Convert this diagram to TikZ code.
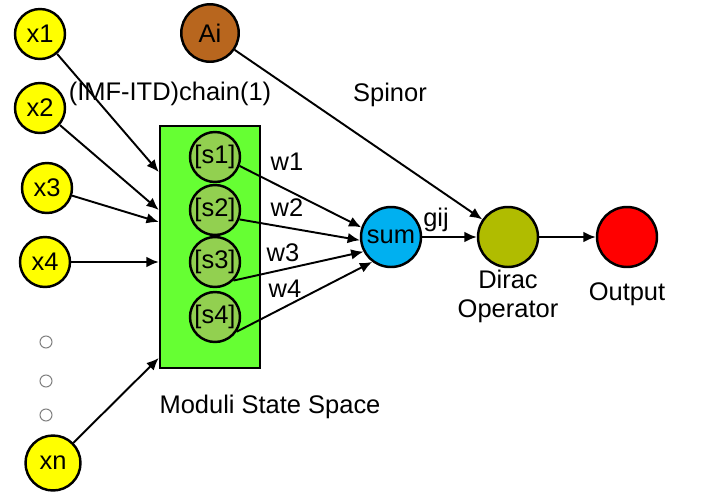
\documentclass[tikz,border=0pt]{standalone}
\usepackage{fontspec}
\setmainfont{Liberation Sans}
\usetikzlibrary{arrows.meta}
\definecolor{inyellow}{RGB}{255,255,0}
\definecolor{aibrown}{RGB}{184,102,30}
\definecolor{boxgreen}{RGB}{102,255,51}
\definecolor{stategreen}{RGB}{146,208,80}
\definecolor{sumblue}{RGB}{0,176,240}
\definecolor{diracolive}{RGB}{176,188,0}
\begin{document}
\begin{tikzpicture}[x=0.02cm, y=-0.02cm, line width=1.1pt, >={Latex[length=7pt,width=6pt]},
    font=\fontsize{14.5}{16.5}\selectfont,
    unit/.style={circle, draw, line width=1.4pt, inner sep=0pt, minimum size=1cm},
    dots/.style={circle, draw=gray, line width=0.6pt, fill=white, inner sep=0pt, minimum size=0.24cm}]
        \useasboundingbox (0,0) rectangle (704,498);
        % inputs
        \node[unit, fill=inyellow] (x1) at (40,34) {x1};
        \node[unit, fill=inyellow] (x2) at (40,108) {x2};
        \node[unit, fill=inyellow] (x3) at (47,188) {x3};
        \node[unit, fill=inyellow] (x4) at (45,262) {x4};
        \node[unit, fill=inyellow, minimum size=1.1cm] (xn) at (53,463) {xn};
        \node[dots] (d1) at (46,342) {};
        \node[dots] (d2) at (46,381) {};
        \node[dots] (d3) at (46,415) {};
        \node[unit, fill=aibrown, minimum size=1.15cm] (ai) at (210,33) {Ai};
        % moduli state space
        \node[draw, fill=boxgreen, line width=1.4pt, minimum width=2cm, minimum height=4.84cm] (box) at (210,247) {};
        \node[unit, fill=stategreen] (s1) at (215,157) {[s1]};
        \node[unit, fill=stategreen] (s2) at (215,210) {[s2]};
        \node[unit, fill=stategreen] (s3) at (215,262) {[s3]};
        \node[unit, fill=stategreen] (s4) at (215,317) {[s4]};
        \node[] (mss) at (270,407) {Moduli State Space};
        \node[] (chain) at (170,94) {(IMF-ITD)chain(1)};
        % right part
        \node[unit, fill=sumblue, minimum size=1.2cm] (sum) at (391,237) {sum};
        \node[unit, fill=diracolive, minimum size=1.2cm] (dirac) at (508,237) {};
        \node[unit, fill=red, minimum size=1.2cm] (out) at (627,237) {};
        \node[align=center] (dlab) at (508,296) {Dirac\\Operator};
        \node[] (olab) at (627,294) {Output};
        \node[] (spin) at (390,95) {Spinor};
        \node[] (gij) at (436,220) {gij};
        \node[] (w1) at (287,162) {w1};
        \node[] (w2) at (287,208) {w2};
        \node[] (w3) at (283,253) {w3};
        \node[] (w4) at (285,289) {w4};
        % connectors
        \draw[->] (x1) -- (box.west |- 0,172);
        \draw[->] (x2) -- (box.west |- 0,210);
        \draw[->] (x3) -- (box.west |- 0,222);
        \draw[->] (x4) -- (box.west |- 0,262);
        \draw[->] (xn) -- (box.west |- 0,358);
        \draw[->] (s1.-20) -- (sum.162);
        \draw[->] (s2.-21) -- (sum.186);
        \draw[->] (s3.-45) -- (sum.208);
        \draw[->] (s4.-34) -- (sum.233);
        \draw[->] (ai) -- (dirac);
        \draw[->] (sum) -- (dirac);
        \draw[->] (dirac) -- (out);
      \end{tikzpicture}
\end{document}
